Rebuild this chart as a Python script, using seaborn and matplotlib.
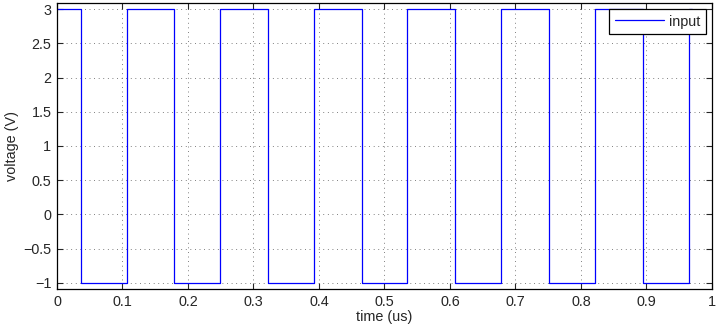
import matplotlib
matplotlib.use("Agg")
import matplotlib.pyplot as plt
import seaborn as sns
import pandas as pd

# Square-wave input: switching instants (us) and the level held after each one
edge_times = [0.0, 0.0362, 0.1064, 0.1791, 0.2493, 0.3221, 0.3928, 0.4652,
              0.5348, 0.6081, 0.6779, 0.7511, 0.8214, 0.8942, 0.9644, 0.97]
levels = [3, -1, 3, -1, 3, -1, 3, -1, 3, -1, 3, -1, 3, -1, 3, 3]

x_ticks = [0, 0.1, 0.2, 0.3, 0.4, 0.5, 0.6, 0.7, 0.8, 0.9, 1]
x_tick_labels = ["0", "0.1", "0.2", "0.3", "0.4", "0.5", "0.6", "0.7", "0.8", "0.9", "1"]
y_ticks = [-1, -0.5, 0, 0.5, 1, 1.5, 2, 2.5, 3]
y_tick_labels = ["\u22121", "\u22120.5", "0", "0.5", "1", "1.5", "2", "2.5", "3"]

sns.set_style("white")
plt.rcParams["font.family"] = ["Liberation Sans", "DejaVu Sans"]

df = pd.DataFrame({"time": edge_times, "voltage": levels, "signal": "input"})

fig = plt.figure(figsize=(7.16, 3.29), dpi=100)
ax = fig.add_axes([0.0796, 0.1216, 0.9148, 0.8693])

sns.lineplot(data=df, x="time", y="voltage", hue="signal", palette=["#0000ff"],
             estimator=None, sort=False, drawstyle="steps-post",
             linewidth=0.9, ax=ax)

ax.set_xlim(0, 1)
ax.set_ylim(-1.09, 3.09)
ax.set_xticks(x_ticks)
ax.set_xticklabels(x_tick_labels)
ax.set_yticks(y_ticks)
ax.set_yticklabels(y_tick_labels)
ax.set_xlabel("time (us)", fontsize=10.4, labelpad=1)
ax.set_ylabel("voltage (V)", fontsize=10.4, labelpad=3)

ax.grid(True, linestyle=(0, (1, 4.5)), color="#555555", linewidth=0.6)
ax.tick_params(direction="in", length=4.5, width=0.8, labelsize=10.4,
               top=True, right=True, bottom=True, left=True, pad=4)
for side in ax.spines.values():
    side.set_visible(True)
    side.set_color("black")
    side.set_linewidth(0.9)

leg = ax.legend(loc="upper right", fontsize=10.4, frameon=True, fancybox=False,
                handlelength=3.4, borderaxespad=0.4, borderpad=0.4,
                handletextpad=0.35)
leg.get_frame().set_edgecolor("black")
leg.get_frame().set_linewidth(0.9)
leg.get_frame().set_alpha(1.0)

fig.savefig("out.png", dpi=100)
